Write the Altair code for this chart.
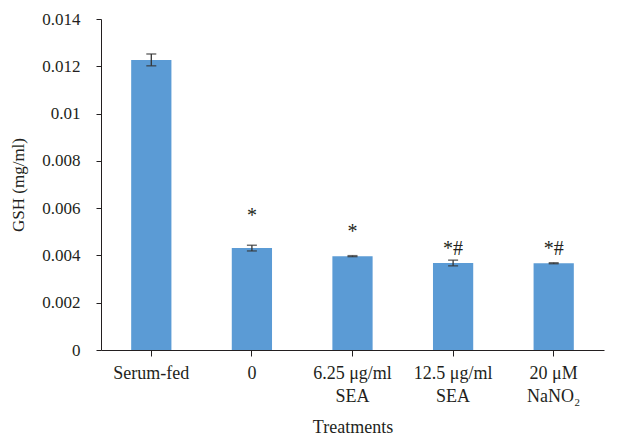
import altair as alt
import pandas as pd

categories = ["Serum-fed", "0", "6.25 μg/ml|SEA", "12.5 μg/ml|SEA", "20 μM|NaNO₂"]
gsh = [0.01227, 0.00431, 0.00397, 0.00368, 0.00367]
err = [0.00025, 0.00012, 0.00002, 0.00012, 0.00002]
marks = ["", "*", "*", "*#", "*#"]
mark_y = [None, 0.0058, 0.0051, 0.0044, 0.0044]

df = pd.DataFrame({
    "cat": categories,
    "gsh": gsh,
    "lo": [g - e for g, e in zip(gsh, err)],
    "hi": [g + e for g, e in zip(gsh, err)],
    "mark": marks,
    "my": mark_y,
})

FONT = "Liberation Serif"
INK = "#231f20"
x = alt.X("cat:N", sort=categories, title="Treatments",
          axis=alt.Axis(labelAngle=0, labelExpr="split(datum.value, '|')",
                        labelFont=FONT, labelFontSize=18, labelColor=INK,
                        titleFont=FONT, titleFontSize=18, titleFontWeight="normal",
                        titleColor=INK, titlePadding=13, tickSize=6,
                        labelPadding=8, domainColor=INK, tickColor=INK,
                        labelLineHeight=23),
          scale=alt.Scale(paddingInner=0.6, paddingOuter=0.3))

base = alt.Chart(df)
bars = base.mark_bar(color="#5B9BD5").encode(
    x=x,
    y=alt.Y("gsh:Q", title="GSH (mg/ml)",
            scale=alt.Scale(domain=[0, 0.014], nice=False),
            axis=alt.Axis(values=[0, 0.002, 0.004, 0.006, 0.008, 0.01, 0.012, 0.014],
                          format="~g", grid=False, labelFont=FONT, labelFontSize=17,
                          labelColor=INK, titleFont=FONT, titleFontSize=17,
                          titleFontWeight="normal", titleColor=INK,
                          titlePadding=14, tickSize=5, labelPadding=16,
                          domainColor=INK, tickColor=INK)),
)
rule = base.mark_rule(color="#333333", strokeWidth=1.3).encode(
    x=alt.X("cat:N", sort=categories), y="lo:Q", y2="hi:Q")
cap_lo = base.mark_tick(color="#333333", thickness=1.5, size=10).encode(
    x=alt.X("cat:N", sort=categories), y="lo:Q")
cap_hi = base.mark_tick(color="#333333", thickness=1.5, size=10).encode(
    x=alt.X("cat:N", sort=categories), y="hi:Q")
txt = base.transform_filter("datum.mark != ''").mark_text(
    font=FONT, fontSize=20, baseline="middle", color=INK, dy=3).encode(
    x=alt.X("cat:N", sort=categories), y="my:Q", text="mark:N")

chart = alt.layer(bars, rule, cap_lo, cap_hi, txt).properties(
    width=503, height=331, autosize="none",
    padding={"left": 93, "top": 11, "right": 10, "bottom": 92},
).configure_view(stroke=None)

chart.save("out.html", embed_options={"renderer": "svg", "actions": False})
